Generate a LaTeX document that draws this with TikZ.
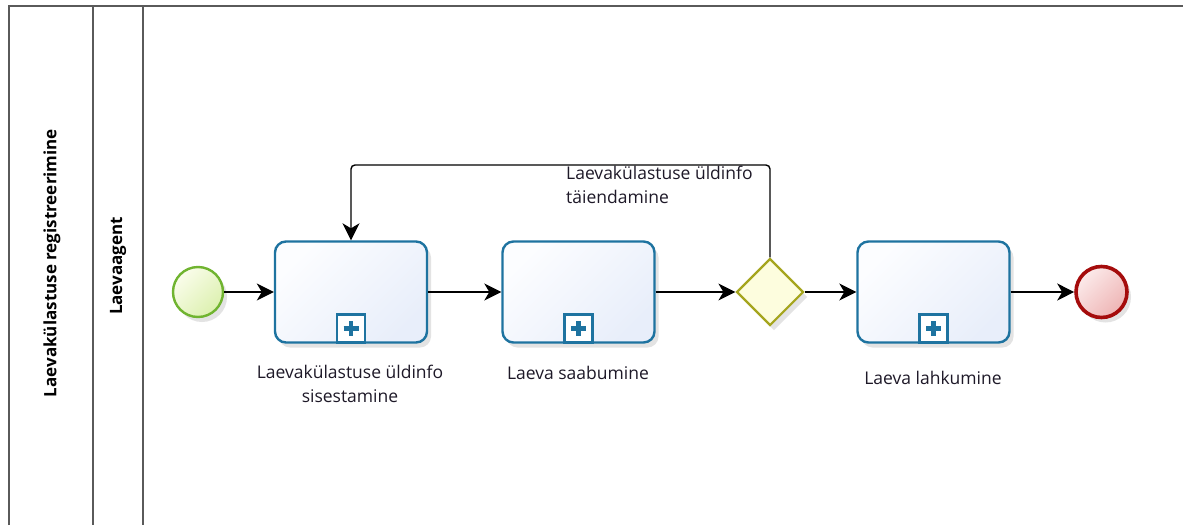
\documentclass[tikz,border=0pt]{standalone}
\usepackage{fontspec}
\setmainfont{Open Sans}
\usetikzlibrary{shapes.geometric,arrows.meta,shadows}
\definecolor{taskblue}{RGB}{30,115,160}
\definecolor{taskfillA}{RGB}{252,253,255}
\definecolor{taskfillB}{RGB}{232,238,250}
\definecolor{startgreen}{RGB}{112,180,48}
\definecolor{startfillA}{RGB}{250,253,235}
\definecolor{startfillB}{RGB}{220,240,175}
\definecolor{gwolive}{RGB}{165,165,30}
\definecolor{gwfill}{RGB}{253,253,222}
\definecolor{endred}{RGB}{165,12,12}
\definecolor{endfillA}{RGB}{252,235,235}
\definecolor{endfillB}{RGB}{238,180,180}
\definecolor{lanegray}{RGB}{90,90,90}
\definecolor{txt}{RGB}{30,25,40}
\tikzset{
  shad/.style={drop shadow={opacity=0.22,shadow xshift=4pt,shadow yshift=-5pt}},
  task/.style={rectangle, rounded corners=11pt, draw=taskblue, line width=2.4pt,
    minimum width=152pt, minimum height=101pt, inner sep=0pt,
    shading=axis, left color=taskfillA, right color=taskfillB, shading angle=45, shad},
  marker/.style={rectangle, draw=taskblue, line width=2.4pt, fill=white,
    minimum width=28pt, minimum height=28pt, inner sep=0pt,
    path picture={\draw[taskblue, line width=4.5pt] (path picture bounding box.center) ++(-7.5,0) -- ++(15,0);
                  \draw[taskblue, line width=4.5pt] (path picture bounding box.center) ++(0,-7.5) -- ++(0,15);}},
  startev/.style={circle, draw=startgreen, line width=2.4pt, minimum size=50pt, inner sep=0pt,
    shading=axis, left color=startfillA, right color=startfillB, shading angle=45, shad},
  endev/.style={circle, draw=endred, line width=3.6pt, minimum size=51pt, inner sep=0pt,
    shading=axis, left color=endfillA, right color=endfillB, shading angle=45, shad},
  gw/.style={diamond, aspect=1, draw=gwolive, line width=2.2pt, minimum size=67pt, inner sep=0pt,
    fill=gwfill, shad},
  flow/.style={draw=black, line width=1.4pt, -{Stealth[length=17pt,width=17pt,inset=5pt]}},
  lbl/.style={text=txt, font=\fontsize{17.5}{23.5}\selectfont, inner sep=0pt, align=center},
  lanelbl/.style={text=black, font=\bfseries\fontsize{17}{20}\selectfont, inner sep=0pt, rotate=90},
  laneline/.style={draw=lanegray, line width=1.5pt}
}
\begin{document}
\begin{tikzpicture}[x=1pt,y=-1pt]
\useasboundingbox[fill=white] (0,0) rectangle (1183,525);
% pool and lanes
\draw[laneline] (9,525) -- (9,6) -- (1183,6);
\draw[laneline] (93,6) -- (93,525);
\draw[laneline] (143,6) -- (143,525);
\node[lanelbl] (pool) at (52,263) {Laevakülastuse registreerimine};
\node[lanelbl] (lane) at (118,266) {Laevaagent};
% elements
\node[startev] (s) at (198,292) {};
\node[task] (t1) at (351,292) {};
\node[task] (t2) at (578.5,292) {};
\node[gw] (g) at (770,292) {};
\node[task] (t3) at (933.5,292) {};
\node[endev] (e) at (1101.5,292) {};
\node[marker, anchor=south] (m1) at (t1.south) {};
\node[marker, anchor=south] (m2) at (t2.south) {};
\node[marker, anchor=south] (m3) at (t3.south) {};
% labels
\node[lbl] (l1) at (350,384) {Laevakülastuse üldinfo\\sisestamine};
\node[lbl] (l2) at (578,373) {Laeva saabumine};
\node[lbl] (l3) at (933,378) {Laeva lahkumine};
\node[lbl, align=left, anchor=north west] (ll) at (566,166) {Laevakülastuse üldinfo\\täiendamine};
% flows
\coordinate (top) at (0,165);
\draw[flow] (s) -- (t1);
\draw[flow] (t1) -- (t2);
\draw[flow] (t2) -- (g);
\draw[flow] (g) -- (t3);
\draw[flow] (t3) -- (e);
\draw[flow, rounded corners=4pt] (g.north) -- (g.north |- top) -- (t1.north |- top) -- (t1.north);
\end{tikzpicture}
\end{document}
